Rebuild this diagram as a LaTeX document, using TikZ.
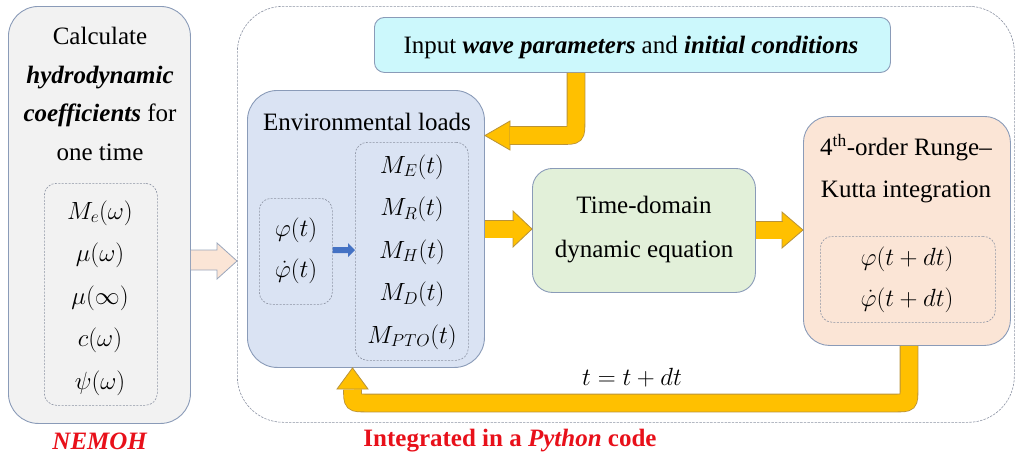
\documentclass[tikz,border=0pt]{standalone}
\usepackage{fontspec}
\setmainfont{Liberation Serif}
\usetikzlibrary{calc}

\definecolor{frame}{HTML}{8A9BB8}
\definecolor{dashgray}{HTML}{8C93A3}
\definecolor{nemohfill}{HTML}{F2F2F2}
\definecolor{envfill}{HTML}{DAE3F3}
\definecolor{inputfill}{HTML}{CCF8FC}
\definecolor{timefill}{HTML}{E2F0D9}
\definecolor{rkfill}{HTML}{FBE5D6}
\definecolor{flowfill}{HTML}{FFC000}
\definecolor{flowedge}{HTML}{B8923A}
\definecolor{peachedge}{HTML}{9AA6BC}
\definecolor{loadblue}{HTML}{4472C4}
\definecolor{labelred}{HTML}{E8101A}

\tikzset{
  panel/.style={draw=frame, line width=0.9pt, anchor=north west, inner sep=0pt},
  dashpanel/.style={draw=dashgray, line width=0.6pt, dash pattern=on 2pt off 1.4pt,
                    rounded corners=12pt, anchor=north west, inner sep=0pt},
  txt/.style={inner sep=0pt, align=center, font=\fontsize{25}{38.7}\selectfont},
  mathlist/.style={inner sep=0pt, align=center, font=\fontsize{25}{42.5}\selectfont},
  redlabel/.style={inner sep=0pt, text=labelred, font=\fontsize{25}{30}\selectfont\bfseries},
  flowshaft/.style={draw=flowedge, line width=0.8pt, double=flowfill, double distance=17pt},
  flowhead/.style={fill=flowfill, draw=flowedge, line width=0.8pt, line join=miter},
}

\begin{document}
\begin{tikzpicture}[x=1pt, y=-1pt]
\useasboundingbox (0,0) rectangle (1016,464);

% ---------- NEMOH column ----------
\node[panel, fill=nemohfill, rounded corners=30pt, minimum width=182pt, minimum height=417pt]
  (nemoh) at (8,6) {};
\node[dashpanel, minimum width=113pt, minimum height=222pt] (coeffs) at (44,183) {};
\node[txt] (nemohtxt) at (100,94)
  {Calculate\\ \textbf{\textit{hydrodynamic}}\\ \textbf{\textit{coefficients}} for\\ one time};
\node[mathlist] (coefflist) at (100,298)
  {$M_e(\omega)$\\ $\mu(\omega)$\\ $\mu(\infty)$\\ $c(\omega)$\\ $\psi(\omega)$};
\node[redlabel] (nemohlbl) at (100,441) {\textit{NEMOH}};

% ---------- Python container ----------
\node[draw=dashgray, line width=0.6pt, dash pattern=on 2.4pt off 1.2pt, rounded corners=46pt,
      anchor=north west, inner sep=0pt, minimum width=777pt, minimum height=416pt]
  (python) at (237,6) {};
\node[redlabel] (pythonlbl) at (510,441) {Integrated in a \textit{Python} code};

% peach arrow from NEMOH into the container
\coordinate (pk0) at (nemoh.east |- 0,260);
\path[fill=rkfill, draw=peachedge, line width=0.8pt, line join=miter]
  ($(pk0)+(0,-10)$) -- (217,250) -- (217,243) -- (python.west |- 0,261) -- (217,279)
  -- (217,270) -- ($(pk0)+(0,10)$);

% ---------- input box ----------
\node[panel, fill=inputfill, rounded corners=10pt, minimum width=516pt, minimum height=55pt]
  (input) at (374,17) {};
\node[txt] (inputtxt) at (631,47)
  {Input \textbf{\textit{wave parameters}} and \textbf{\textit{initial conditions}}};

% ---------- environmental loads ----------
\node[panel, fill=envfill, rounded corners=30pt, minimum width=237pt, minimum height=277pt]
  (env) at (247,90) {};
\node[txt] (envtxt) at (367,122) {Environmental loads};
\node[dashpanel, minimum width=73pt, minimum height=106pt] (state) at (259,198) {};
\node[mathlist, font=\fontsize{25}{41}\selectfont] (statelist) at (296,251)
  {$\varphi(t)$\\ $\dot{\varphi}(t)$};
\node[dashpanel, minimum width=113pt, minimum height=218pt] (loads) at (355,142) {};
\node[mathlist] (loadlist) at (412,252)
  {$M_E(t)$\\ $M_R(t)$\\ $M_H(t)$\\ $M_D(t)$\\ $M_{PTO}(t)$};
% small blue arrow from the state to the loads
\fill[loadblue] (state.east |- 0,247) -- (348,247) -- (348,243) -- (loads.west |- 0,250)
  -- (348,257) -- (348,253) -- (state.east |- 0,253) -- cycle;

% ---------- time-domain equation ----------
\node[panel, fill=timefill, rounded corners=20pt, minimum width=223pt, minimum height=124pt]
  (time) at (532,168) {};
\node[txt, font=\fontsize{25}{44}\selectfont] (timetxt) at (644,230)
  {Time-domain\\ dynamic equation};

% ---------- Runge-Kutta ----------
\node[panel, fill=rkfill, rounded corners=26pt, minimum width=207pt, minimum height=229pt]
  (rk) at (803,116) {};
\node[txt, font=\fontsize{25}{42}\selectfont] (rktxt) at (906,169)
  {4\textsuperscript{th}-order Runge--\\ Kutta integration};
\node[dashpanel, minimum width=175pt, minimum height=86pt] (next) at (820,236) {};
\node[mathlist, font=\fontsize{25}{41}\selectfont] (nextlist) at (907,280)
  {$\varphi(t+dt)$\\ $\dot{\varphi}(t+dt)$};

% ---------- yellow flow arrows ----------
% input -> environmental loads
\path[flowhead] (510,121) -- (env.east |- 0,135.5) -- (510,150) -- cycle;
\draw[flowshaft] (input.south -| 576,0) -- (576,122) .. controls (576,135.5) .. (562.5,135.5)
  -- (509.5,135.5);

% environmental loads -> time-domain equation
\path[flowhead] (513,211) -- (time.west |- 0,229) -- (513,247) -- cycle;
\draw[flowshaft] (env.east |- 0,229) -- (513.5,229);

% time-domain equation -> Runge-Kutta
\path[flowhead] (782,212) -- (rk.west |- 0,230) -- (782,248) -- cycle;
\draw[flowshaft] (time.east |- 0,230) -- (782.5,230);

% Runge-Kutta -> back to environmental loads
\path[flowhead] (337,389) -- (env.south -| 352.5,0) -- (368,389) -- cycle;
\draw[flowshaft] (rk.south -| 909,0) -- (909,390) .. controls (909,403) .. (896,403)
  -- (366,403) .. controls (352.5,403) .. (352.5,389.5);
\node[mathlist] (steptxt) at (632,378) {$t=t+dt$};

\end{tikzpicture}
\end{document}
